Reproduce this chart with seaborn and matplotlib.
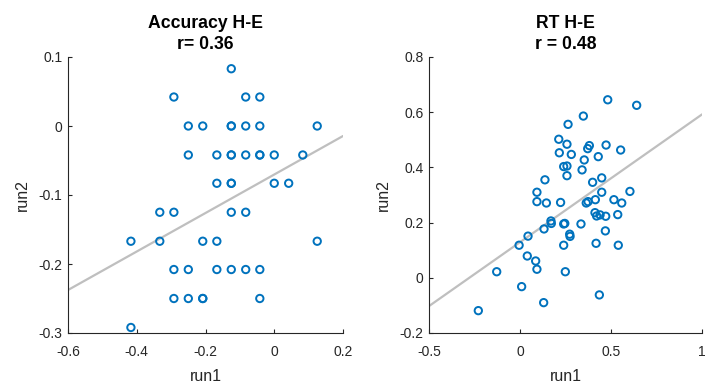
import numpy as np
import pandas as pd
import matplotlib
matplotlib.use("Agg")
import matplotlib.pyplot as plt
import seaborn as sns

sns.set_style("white")
plt.rcParams["font.family"] = ["Liberation Sans", "DejaVu Sans"]
plt.rcParams["axes.unicode_minus"] = False

# Accuracy difference (H-E), run1 vs run2
acc_run1 = [-0.125,
            -0.292, -0.083, -0.042,
            -0.250, -0.208, -0.125, -0.125, -0.083, -0.042, 0.125,
            -0.250, -0.167, -0.125, -0.125, -0.083, -0.042, -0.042, 0.000, 0.083,
            -0.167, -0.125, -0.125, 0.000, 0.042,
            -0.333, -0.292, -0.125, -0.083,
            -0.417, -0.333, -0.208, -0.167, 0.125,
            -0.292, -0.250, -0.167, -0.125, -0.083, -0.042,
            -0.292, -0.250, -0.208, -0.208, -0.042,
            -0.417]
acc_run2 = [0.083,
            0.042, 0.042, 0.042,
            0.000, 0.000, 0.000, 0.000, 0.000, 0.000, 0.000,
            -0.042, -0.042, -0.042, -0.042, -0.042, -0.042, -0.042, -0.042, -0.042,
            -0.083, -0.083, -0.083, -0.083, -0.083,
            -0.125, -0.125, -0.125, -0.125,
            -0.167, -0.167, -0.167, -0.167, -0.167,
            -0.208, -0.208, -0.208, -0.208, -0.208, -0.208,
            -0.250, -0.250, -0.250, -0.250, -0.250,
            -0.292]

# RT difference (H-E), run1 vs run2
rt_run1 = [0.482, 0.641, 0.348, 0.264, 0.213, 0.258, 0.216, 0.282, 0.381, 0.372,
           0.473, 0.553, 0.353, 0.430, 0.240, 0.258, 0.341, 0.137, 0.258, 0.449,
           0.399, 0.093, 0.449, 0.604,
           0.093, 0.145, 0.223, 0.364, 0.374, 0.414, 0.516, 0.559,
           0.170, 0.172, 0.132, 0.240, 0.246, 0.335, 0.412, 0.421, 0.440, 0.471, 0.537,
           0.044, 0.273, 0.275, 0.469, -0.005, 0.240, 0.418, 0.540,
           0.040, 0.086, 0.093, 0.249, -0.128, 0.009, 0.130, 0.436, -0.229]
rt_run2 = [0.645, 0.625, 0.586, 0.556, 0.502, 0.484, 0.453, 0.447, 0.479, 0.468,
           0.481, 0.463, 0.427, 0.439, 0.403, 0.405, 0.391, 0.355, 0.370, 0.362,
           0.346, 0.310, 0.310, 0.313,
           0.276, 0.271, 0.273, 0.271, 0.276, 0.283, 0.283, 0.271,
           0.206, 0.197, 0.177, 0.195, 0.197, 0.195, 0.236, 0.224, 0.228, 0.223, 0.229,
           0.151, 0.158, 0.150, 0.170, 0.118, 0.118, 0.125, 0.118,
           0.079, 0.061, 0.031, 0.022, 0.022, -0.032, -0.090, -0.062, -0.119]

# least-squares line coefficients (intercept, slope)
acc_fit = (-0.0703, 0.279)
rt_fit = (0.129, 0.463)

titles = ["Accuracy H-E\nr= 0.36", "RT H-E\nr = 0.48"]
xlims = [(-0.6, 0.2), (-0.5, 1.0)]
ylims = [(-0.3, 0.1), (-0.2, 0.8)]
xticks = [[-0.6, -0.4, -0.2, 0, 0.2], [-0.5, 0, 0.5, 1]]
yticks = [[-0.3, -0.2, -0.1, 0, 0.1], [-0.2, 0, 0.2, 0.4, 0.6, 0.8]]

blue = "#0072BD"
gray_line = "#BFBFBF"
axis_col = "#262626"

fig = plt.figure(figsize=(7.05, 3.87), dpi=100)
ax1 = fig.add_axes([68 / 705, 1 - 333 / 387, 275 / 705, 276 / 387])
ax2 = fig.add_axes([429 / 705, 1 - 333 / 387, 273 / 705, 276 / 387])

panels = [(ax1, acc_run1, acc_run2, acc_fit),
          (ax2, rt_run1, rt_run2, rt_fit)]

for i, (ax, xs, ys, fit) in enumerate(panels):
    df = pd.DataFrame({"run1": xs, "run2": ys})
    sns.scatterplot(data=df, x="run1", y="run2", ax=ax, marker="o", s=28,
                    facecolors="none", edgecolor=blue, linewidth=1.4,
                    zorder=3)
    xl = np.array(xlims[i])
    line_df = pd.DataFrame({"run1": xl, "run2": fit[0] + fit[1] * xl})
    sns.lineplot(data=line_df, x="run1", y="run2", ax=ax, color=gray_line,
                 linewidth=1.6, zorder=2)
    ax.set_xlim(*xlims[i])
    ax.set_ylim(*ylims[i])
    ax.set_xticks(xticks[i])
    ax.set_yticks(yticks[i])
    ax.set_xticklabels([f"{t:g}" for t in xticks[i]])
    ax.set_yticklabels([f"{t:g}" for t in yticks[i]])
    ax.set_title(titles[i], fontsize=12.7, fontweight="bold", pad=5.5,
                 color="black", linespacing=1.3)
    ax.set_xlabel("run1", fontsize=11.5, color=axis_col, labelpad=6.5)
    ax.set_ylabel("run2", fontsize=11.5, color=axis_col, labelpad=6.5)
    for side in ["top", "right"]:
        ax.spines[side].set_visible(False)
    for side in ["left", "bottom"]:
        ax.spines[side].set_color(axis_col)
        ax.spines[side].set_linewidth(0.8)
    ax.tick_params(axis="both", direction="in", length=3, width=0.8,
                   colors=axis_col, labelsize=10, pad=4,
                   left=True, bottom=True)
    ax.tick_params(axis="x", pad=9)
    ax.set_facecolor("white")

fig.savefig("out.png", dpi=100)
